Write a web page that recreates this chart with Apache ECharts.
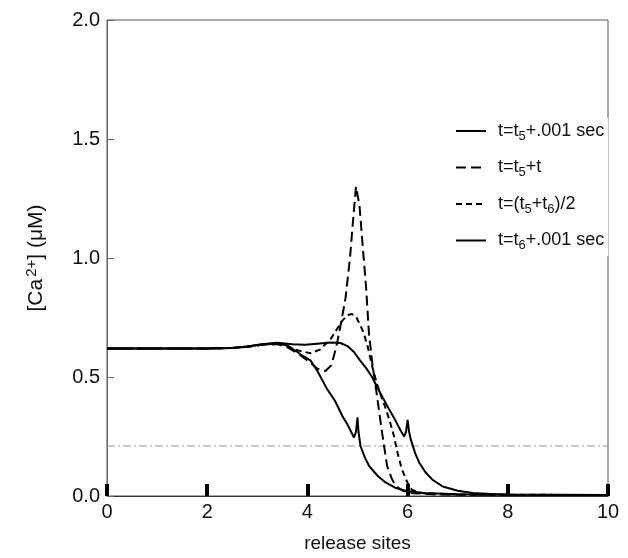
<!DOCTYPE html>
<html>
<head>
<meta charset="utf-8">
<script src="https://cdn.jsdelivr.net/npm/echarts@6/dist/echarts.min.js"></script>
<style>html,body{margin:0;padding:0;background:#fff}#c{width:628px;height:558px}</style>
</head>
<body>
<div id="c"></div>
<script>
var xTicks = [0, 2, 4, 6, 8, 10];
var yTicks = [0.0, 0.5, 1.0, 1.5, 2.0];
var names = ['t=t5+.001 sec', 't=t5+t', 't=(t5+t6)/2', 't=t6+.001 sec'];
var thresholdY = 0.21;

var curveT5 = [[0,0.62],[2,0.62],[2.5,0.622],[2.8,0.628],[3.1,0.638],[3.4,0.642],[3.6,0.632],[3.8,0.605],[3.9,0.59],[4.06,0.57],[4.2,0.525],[4.39,0.45],[4.55,0.40],[4.7,0.335],[4.8,0.30],[4.93,0.246],[4.97,0.27],[5.0,0.33],[5.02,0.27],[5.06,0.21],[5.15,0.16],[5.23,0.127],[5.4,0.085],[5.56,0.057],[5.75,0.035],[5.96,0.022],[6.3,0.013],[7,0.007],[8,0.005],[10,0.004]];
var curveT5t = [[0,0.62],[2,0.62],[2.5,0.622],[2.8,0.627],[3.1,0.635],[3.4,0.638],[3.6,0.625],[3.8,0.6],[4.0,0.57],[4.2,0.535],[4.36,0.525],[4.48,0.55],[4.58,0.63],[4.66,0.714],[4.76,0.83],[4.85,1.0],[4.92,1.18],[4.97,1.30],[5.0,1.305],[5.04,1.22],[5.1,1.06],[5.17,0.88],[5.23,0.68],[5.3,0.55],[5.39,0.42],[5.49,0.267],[5.59,0.127],[5.68,0.075],[5.76,0.043],[5.9,0.022],[6.1,0.012],[6.5,0.007],[7,0.005],[10,0.004]];
var curveMid = [[0,0.62],[2,0.62],[2.5,0.622],[2.8,0.627],[3.1,0.636],[3.4,0.64],[3.6,0.63],[3.8,0.612],[4.06,0.6],[4.25,0.615],[4.46,0.658],[4.6,0.705],[4.69,0.735],[4.8,0.76],[4.89,0.765],[4.98,0.75],[5.05,0.72],[5.12,0.687],[5.2,0.63],[5.3,0.54],[5.39,0.47],[5.47,0.42],[5.56,0.37],[5.65,0.31],[5.73,0.25],[5.8,0.18],[5.89,0.11],[6.0,0.055],[6.09,0.025],[6.3,0.012],[7,0.006],[10,0.004]];
var curveT6 = [[0,0.62],[2,0.62],[2.5,0.622],[2.8,0.628],[3.1,0.638],[3.4,0.644],[3.7,0.638],[3.95,0.635],[4.2,0.64],[4.45,0.645],[4.66,0.643],[4.8,0.63],[4.93,0.605],[5.05,0.57],[5.18,0.535],[5.29,0.5],[5.4,0.455],[5.5,0.415],[5.63,0.365],[5.75,0.32],[5.86,0.275],[5.93,0.25],[5.97,0.27],[6.0,0.32],[6.03,0.27],[6.06,0.24],[6.15,0.18],[6.23,0.141],[6.36,0.099],[6.5,0.068],[6.7,0.04],[7.0,0.022],[7.3,0.013],[7.66,0.008],[8,0.006],[10,0.004]];

var legendMap = {};
legendMap[names[0]] = 't=t{s|5}+.001 sec';
legendMap[names[1]] = 't=t{s|5}+t';
legendMap[names[2]] = 't=(t{s|5}+t{s|6})/2';
legendMap[names[3]] = 't=t{s|6}+.001 sec';

var FONT = 'Liberation Sans, Arial, sans-serif';
var chart = echarts.init(document.getElementById('c'), null, {renderer: 'canvas'});

function lineSeries(name, data, type) {
  return {
    name: name, type: 'line', data: data, symbol: 'none', smooth: false,
    lineStyle: {color: '#000', width: 2, type: type},
    itemStyle: {color: '#000'},
    z: 3
  };
}

chart.setOption({
  animation: false,
  backgroundColor: '#fff',
  grid: {left: 107, right: 20, top: 20, bottom: 61, show: true, borderColor: '#555', borderWidth: 1, backgroundColor: 'transparent'},
  legend: {
    data: names, orient: 'vertical', left: 451, top: 118, itemGap: 16,
    padding: 4, backgroundColor: '#fff',
    itemWidth: 30, itemHeight: 14,
    itemStyle: {color: 'rgba(0,0,0,0)', borderWidth: 0, opacity: 0},
    lineStyle: {width: 2, color: '#000'},
    formatter: function (n) { return legendMap[n]; },
    textStyle: {fontFamily: FONT, fontSize: 18, color: '#111', padding: [0, 0, 0, 7],
      rich: {s: {fontSize: 13, fontFamily: FONT, color: '#111', padding: [10, 0, 0, 0]}}}
  },
  xAxis: {
    type: 'value', min: 0, max: 10, interval: 2,
    name: 'release sites', nameLocation: 'middle', nameGap: 38,
    nameTextStyle: {fontFamily: FONT, fontSize: 19, color: '#111'},
    axisLine: {show: true, lineStyle: {color: '#333', width: 1}},
    axisTick: {show: true, inside: true, length: 12, lineStyle: {color: '#000', width: 4}},
    axisLabel: {fontFamily: FONT, fontSize: 20, color: '#111', margin: 6,
      formatter: function (v) { return xTicks.indexOf(v) >= 0 ? String(v) : ''; }},
    splitLine: {show: false}
  },
  yAxis: {
    type: 'value', min: 0, max: 2, interval: 0.5,
    name: '[Ca{sup|2+}] (μM)', nameLocation: 'middle', nameRotate: 90, nameGap: 58,
    nameTextStyle: {fontFamily: FONT, fontSize: 21, color: '#111',
      rich: {sup: {fontSize: 15, fontFamily: FONT, color: '#111', padding: [0, 0, 10, 2]}}},
    axisLine: {show: true, lineStyle: {color: '#666', width: 1}},
    axisTick: {show: true, inside: true, length: 7, lineStyle: {color: '#666', width: 1}},
    axisLabel: {fontFamily: FONT, fontSize: 20, color: '#111', margin: 7,
      formatter: function (v) { return yTicks.indexOf(v) >= 0 ? v.toFixed(1) : ''; }},
    splitLine: {show: false}
  },
  series: [
    lineSeries(names[0], curveT5, 'solid'),
    lineSeries(names[1], curveT5t, [10, 5]),
    lineSeries(names[2], curveMid, [6, 4]),
    lineSeries(names[3], curveT6, 'solid'),
    {
      name: 'threshold', type: 'line', symbol: 'none', silent: true,
      data: [[0, thresholdY], [10, thresholdY]],
      lineStyle: {color: '#999', width: 1, type: [8, 3, 2, 3]}, z: 2
    }
  ]
});
</script>
</body>
</html>
